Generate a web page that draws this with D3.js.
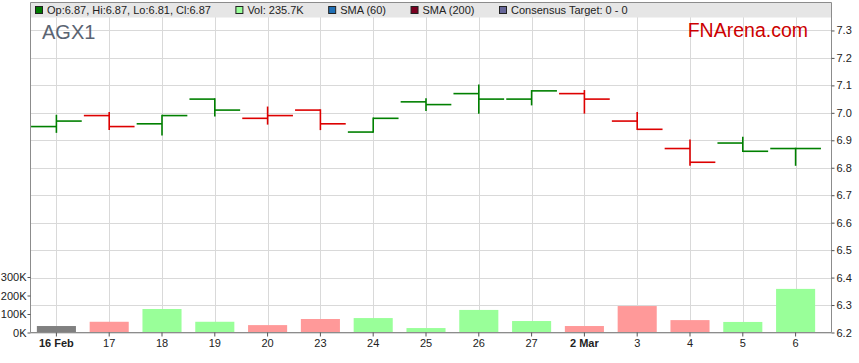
<!DOCTYPE html>
<html>
<head>
<meta charset="utf-8">
<script src="https://cdn.jsdelivr.net/npm/d3@7"></script>
<style>
  body { margin: 0; background: #fff; }
  svg { display: block; font-family: "Liberation Sans", Arial, sans-serif; }
  .axis text { font-size: 11px; fill: #222; }
  .axis path { display: none; }
  .axis line { stroke: #555; }
</style>
</head>
<body>
<svg id="chart" width="859" height="363"></svg>
<script>
// AGX1 daily OHLC + volume, 16 Feb - 6 Mar
const days = ['16 Feb', '17', '18', '19', '20', '23', '24', '25', '26', '27', '2 Mar', '3', '4', '5', '6'];
const opens  = [6.95, 6.99, 6.96, 7.05, 6.98, 7.01, 6.93, 7.04, 7.07, 7.05, 7.07, 6.97, 6.87, 6.89, 6.87];
const highs  = [6.99, 7.00, 6.99, 7.05, 7.02, 7.01, 6.98, 7.05, 7.10, 7.08, 7.08, 7.00, 6.90, 6.91, 6.87];
const lows   = [6.93, 6.94, 6.92, 6.99, 6.96, 6.94, 6.93, 7.01, 7.00, 7.03, 7.00, 6.94, 6.81, 6.86, 6.81];
const closes = [6.97, 6.95, 6.99, 7.01, 6.99, 6.96, 6.98, 7.03, 7.05, 7.08, 7.05, 6.94, 6.82, 6.86, 6.87];
const volumes = [35000, 58000, 127000, 58000, 40000, 73000, 78000, 24000, 122000, 62000, 35000, 143000, 67000, 57000, 235700];

const priceTicks = [6.2, 6.3, 6.4, 6.5, 6.6, 6.7, 6.8, 6.9, 7.0, 7.1, 7.2, 7.3];
const volumeTicks = [0, 100000, 200000, 300000];
const boldDays = ['16 Feb', '2 Mar'];

const legendLabels = ['Op:6.87, Hi:6.87, Lo:6.81, Cl:6.87', 'Vol: 235.7K', 'SMA (60)', 'SMA (200)', 'Consensus Target: 0 - 0'];
const legendColors = ['#007a00', '#99ff99', '#1f6fb5', '#7a0020', '#666699'];

const L = 30.5, R = 831.5, T = 2.5, B = 332.5;

const svg = d3.select('#chart');

const x = d3.scaleBand().domain(days).range([30, 822]);
const cx = d => x(d) + x.bandwidth() / 2;
const y = d3.scaleLinear().domain([6.2, 7.4]).range([B, 3]);
const yv = d3.scaleLinear().domain([0, 300000]).range([B, 277]);

const data = days.map((d, i) => ({
  day: d, open: opens[i], high: highs[i], low: lows[i], close: closes[i], vol: volumes[i],
  dir: i === 0 ? 0 : (closes[i] >= closes[i - 1] ? 1 : -1)
}));

// grid
const grid = svg.append('g').attr('stroke', '#d9d9d9').attr('stroke-width', 1);
grid.selectAll('line.h')
  .data(priceTicks)
  .join('line')
  .attr('x1', L).attr('x2', R)
  .attr('y1', d => Math.round(y(d)) + 0.5)
  .attr('y2', d => Math.round(y(d)) + 0.5);
grid.selectAll('line.v')
  .data(days)
  .join('line')
  .attr('x1', d => Math.round(cx(d)) + 0.5)
  .attr('x2', d => Math.round(cx(d)) + 0.5)
  .attr('y1', T).attr('y2', B);

// volume bars
const barW = x.bandwidth() * 0.74;
svg.append('g')
  .selectAll('rect')
  .data(data)
  .join('rect')
  .attr('x', d => cx(d.day) - barW / 2)
  .attr('width', barW)
  .attr('y', d => yv(d.vol))
  .attr('height', d => B - yv(d.vol))
  .attr('fill', d => d.dir === 0 ? '#808080' : (d.dir > 0 ? '#99ff99' : '#ff9999'));

// OHLC bars
const tick = x.bandwidth() * 0.48;
const ohlc = svg.append('g')
  .selectAll('g')
  .data(data)
  .join('g')
  .attr('stroke', d => d.dir < 0 ? '#dd0000' : '#008000')
  .attr('stroke-width', 1.6);
ohlc.append('line')
  .attr('x1', d => cx(d.day)).attr('x2', d => cx(d.day))
  .attr('y1', d => y(d.high) - 0.8).attr('y2', d => y(d.low) + 0.8);
ohlc.append('line')
  .attr('x1', d => cx(d.day) - tick).attr('x2', d => cx(d.day))
  .attr('y1', d => y(d.open)).attr('y2', d => y(d.open));
ohlc.append('line')
  .attr('x1', d => cx(d.day)).attr('x2', d => cx(d.day) + tick)
  .attr('y1', d => y(d.close)).attr('y2', d => y(d.close));

// legend band
svg.append('rect')
  .attr('x', L).attr('y', T)
  .attr('width', R - L).attr('height', 15)
  .attr('fill', '#e6e6e6');

let lx = 35.5;
legendLabels.forEach((label, i) => {
  svg.append('rect')
    .attr('x', lx).attr('y', 6.5)
    .attr('width', 7).attr('height', 7)
    .attr('fill', legendColors[i])
    .attr('stroke', '#222').attr('stroke-width', 1);
  const t = svg.append('text')
    .attr('x', lx + 11.5).attr('y', 14)
    .attr('font-size', 11).attr('fill', '#222')
    .text(label);
  lx += 11.5 + t.node().getComputedTextLength() + 25;
});

// frame
svg.append('path')
  .attr('d', `M${L},${B}V${T}H${R}V${B}H${L}`)
  .attr('fill', 'none').attr('stroke', '#8c8c8c').attr('stroke-width', 1);

// titles
svg.append('text')
  .attr('x', 42).attr('y', 39)
  .attr('font-size', 20).attr('fill', '#5a6472')
  .text('AGX1');
svg.append('text')
  .attr('x', 808).attr('y', 37)
  .attr('text-anchor', 'end')
  .attr('font-size', 19.5).attr('fill', '#cc0000')
  .text('FNArena.com');

// axes
svg.append('g')
  .attr('class', 'axis')
  .attr('transform', `translate(${R},0)`)
  .call(d3.axisRight(y).tickValues(priceTicks).tickFormat(d3.format('.1f')).tickSize(3).tickPadding(2));

svg.append('g')
  .attr('class', 'axis')
  .attr('transform', `translate(${L},0)`)
  .call(d3.axisLeft(yv).tickValues(volumeTicks).tickFormat(d => (d / 1000) + 'K').tickSize(3).tickPadding(1));

const xAxis = svg.append('g')
  .attr('class', 'axis')
  .attr('transform', `translate(0,${B})`)
  .call(d3.axisBottom(x).tickSize(4).tickPadding(3));
xAxis.selectAll('text')
  .attr('font-size', 11.5)
  .attr('font-weight', d => boldDays.includes(d) ? 'bold' : null);
</script>
</body>
</html>
